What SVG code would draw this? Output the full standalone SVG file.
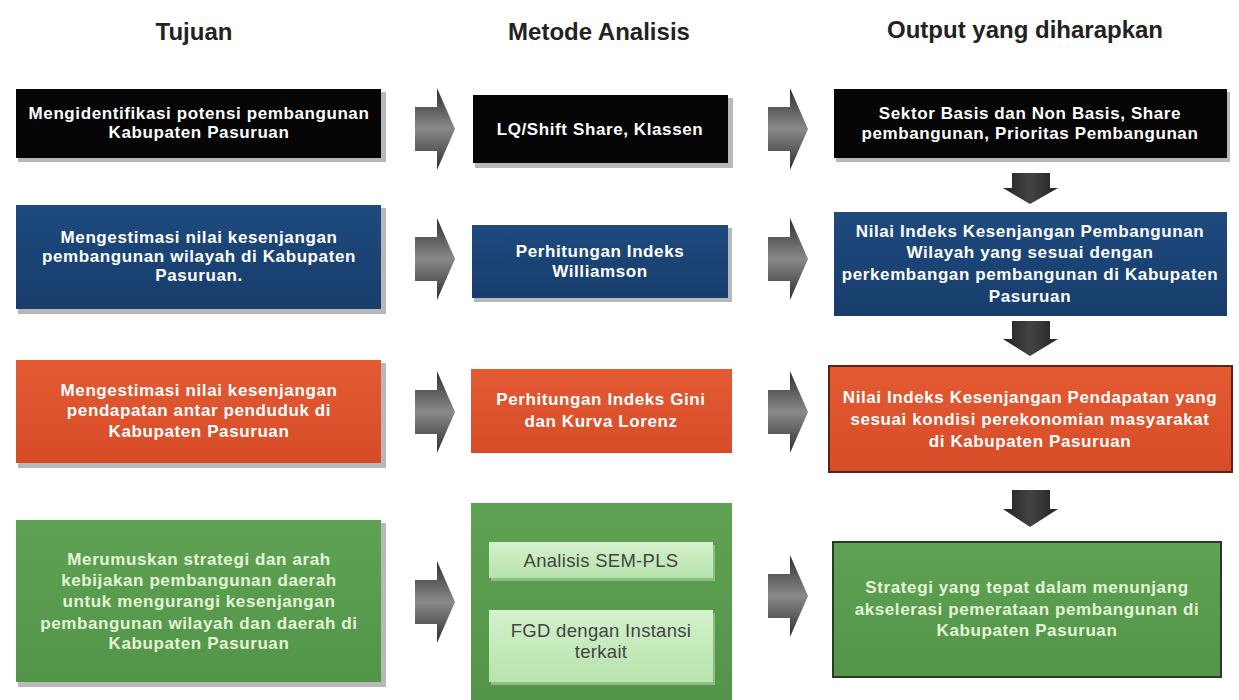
<svg xmlns="http://www.w3.org/2000/svg" width="1239" height="700" viewBox="0 0 1239 700">
<defs>
<style>
.h{font-family:"Liberation Sans",Arial,sans-serif;font-weight:bold;font-size:24px;fill:#222;text-anchor:middle}
.t{font-family:"Liberation Sans",Arial,sans-serif;font-weight:bold;font-size:17px;letter-spacing:0.6px;fill:#fff;text-anchor:middle}
.tg{font-family:"Liberation Sans",Arial,sans-serif;font-weight:bold;font-size:17px;letter-spacing:0.6px;fill:#e4f4d8;text-anchor:middle}
.ti{font-family:"Liberation Sans",Arial,sans-serif;font-size:18.5px;letter-spacing:0.3px;fill:#444;text-anchor:middle}
.sh{fill:#b8b8b8}
.bk{fill:#050505}
.bl{fill:url(#gBlue)}
.or{fill:url(#gOr)}
.gr{fill:url(#gGr)}
.arr{fill:url(#gArr)}
.darr{fill:url(#gDArr)}
</style>
<linearGradient id="gBlue" x1="0" y1="0" x2="0" y2="1"><stop offset="0" stop-color="#1e4a7e"/><stop offset="1" stop-color="#173d6c"/></linearGradient>
<linearGradient id="gOr" x1="0" y1="0" x2="0" y2="1"><stop offset="0" stop-color="#e35a33"/><stop offset="1" stop-color="#d64c27"/></linearGradient>
<linearGradient id="gGr" x1="0" y1="0" x2="0" y2="1"><stop offset="0" stop-color="#5fa254"/><stop offset="1" stop-color="#529548"/></linearGradient>
<linearGradient id="gIn" x1="0" y1="0" x2="0" y2="1"><stop offset="0" stop-color="#d4f1cc"/><stop offset="1" stop-color="#b7e3ad"/></linearGradient>
<linearGradient id="gArr" x1="0" y1="0" x2="0" y2="1"><stop offset="0" stop-color="#2e2e2e"/><stop offset="0.5" stop-color="#8a8a8a"/><stop offset="1" stop-color="#2e2e2e"/></linearGradient>
<linearGradient id="gDArr" x1="0" y1="0" x2="1" y2="0"><stop offset="0" stop-color="#222"/><stop offset="0.5" stop-color="#444"/><stop offset="1" stop-color="#222"/></linearGradient>
<symbol id="ra" viewBox="0 0 40 82"><path d="M0,19 H22 V0 L40,41 L22,82 V63 H0 Z"/></symbol>
</defs>
<rect width="1239" height="700" fill="#fff"/>

<g id="headers">
<text class="h" x="194" y="40">Tujuan</text>
<text class="h" x="599" y="40">Metode Analisis</text>
<text class="h" x="1025" y="38">Output yang diharapkan</text>
</g>

<!-- Tujuan column -->
<g id="t1">
<rect class="sh" x="18" y="92" width="368" height="70"/>
<rect class="bk" x="16" y="89" width="365" height="69"/>
<text class="t" x="199" y="119">Mengidentifikasi potensi pembangunan</text>
<text class="t" x="199" y="138">Kabupaten Pasuruan</text>
</g>
<g id="t2">
<rect class="sh" x="18" y="208" width="368" height="106"/>
<rect class="bl" x="16" y="205" width="365" height="104"/>
<text class="t" x="199" y="243">Mengestimasi nilai kesenjangan</text>
<text class="t" x="199" y="262">pembangunan wilayah di Kabupaten</text>
<text class="t" x="199" y="281">Pasuruan.</text>
</g>
<g id="t3">
<rect class="sh" x="18" y="363" width="368" height="105"/>
<rect class="or" x="16" y="360" width="365" height="103"/>
<text class="t" x="199" y="396">Mengestimasi nilai kesenjangan</text>
<text class="t" x="199" y="416">pendapatan antar penduduk di</text>
<text class="t" x="199" y="437">Kabupaten Pasuruan</text>
</g>
<g id="t4">
<rect class="sh" x="18" y="523" width="368" height="164"/>
<rect class="gr" x="16" y="520" width="365" height="162"/>
<text class="tg" x="199" y="565">Merumuskan strategi dan arah</text>
<text class="tg" x="199" y="586">kebijakan pembangunan daerah</text>
<text class="tg" x="199" y="607">untuk mengurangi kesenjangan</text>
<text class="tg" x="199" y="629">pembangunan wilayah dan daerah di</text>
<text class="tg" x="199" y="649">Kabupaten Pasuruan</text>
</g>

<!-- Metode column -->
<g id="m1">
<rect class="sh" x="475" y="98" width="258" height="70"/>
<rect class="bk" x="473" y="95" width="255" height="68"/>
<text class="t" x="600" y="135">LQ/Shift Share, Klassen</text>
</g>
<g id="m2">
<rect class="sh" x="474" y="228" width="258" height="74"/>
<rect class="bl" x="472" y="225" width="256" height="73"/>
<text class="t" x="600" y="257">Perhitungan Indeks</text>
<text class="t" x="600" y="277">Williamson</text>
</g>
<g id="m3">
<rect class="or" x="471" y="369" width="261" height="84"/>
<text class="t" x="601" y="405">Perhitungan Indeks Gini</text>
<text class="t" x="601" y="427">dan Kurva Lorenz</text>
</g>
<g id="m4">
<rect class="gr" x="471" y="503" width="261" height="197"/>
<rect fill="#8cbf80" x="491" y="545" width="224" height="36"/>
<rect fill="url(#gIn)" x="489" y="542" width="224" height="36"/>
<text class="ti" x="601" y="567">Analisis SEM-PLS</text>
<rect fill="#8cbf80" x="491" y="613" width="224" height="72"/>
<rect fill="url(#gIn)" x="489" y="610" width="224" height="72"/>
<text class="ti" x="601" y="637">FGD dengan Instansi</text>
<text class="ti" x="601" y="658">terkait</text>
</g>

<!-- Output column -->
<g id="o1">
<rect class="sh" x="836" y="92" width="394" height="70"/>
<rect class="bk" x="834" y="89" width="393" height="69"/>
<text class="t" x="1030" y="119">Sektor Basis dan Non Basis, Share</text>
<text class="t" x="1030" y="139">pembangunan, Prioritas Pembangunan</text>
</g>
<g id="o2">
<rect class="bl" x="834" y="212" width="393" height="104"/>
<text class="t" x="1030" y="237">Nilai Indeks Kesenjangan Pembangunan</text>
<text class="t" x="1030" y="258">Wilayah yang sesuai dengan</text>
<text class="t" x="1030" y="280">perkembangan pembangunan di Kabupaten</text>
<text class="t" x="1030" y="302">Pasuruan</text>
</g>
<g id="o3">
<rect class="or" x="829" y="366" width="403" height="106" stroke="#5a2416" stroke-width="2"/>
<text class="t" x="1030" y="403">Nilai Indeks Kesenjangan Pendapatan yang</text>
<text class="t" x="1030" y="425">sesuai kondisi perekonomian masyarakat</text>
<text class="t" x="1030" y="447">di Kabupaten Pasuruan</text>
</g>
<g id="o4">
<rect class="gr" x="833" y="542" width="388" height="135" stroke="#2a3a26" stroke-width="2"/>
<text class="tg" x="1027" y="593">Strategi yang tepat dalam menunjang</text>
<text class="tg" x="1027" y="615">akselerasi pemerataan pembangunan di</text>
<text class="tg" x="1027" y="636">Kabupaten Pasuruan</text>
</g>

<g id="connectors">
<use href="#ra" class="arr" x="415" y="88" width="40" height="82"/>
<use href="#ra" class="arr" x="764" y="88" width="48" height="82"/>
<use href="#ra" class="arr" x="415" y="218" width="40" height="82"/>
<use href="#ra" class="arr" x="764" y="218" width="48" height="82"/>
<use href="#ra" class="arr" x="415" y="371" width="40" height="82"/>
<use href="#ra" class="arr" x="764" y="371" width="48" height="82"/>
<use href="#ra" class="arr" x="415" y="561" width="40" height="82"/>
<use href="#ra" class="arr" x="764" y="555" width="48" height="82"/>
<path class="darr" d="M1012,173 H1050 V188 H1058 L1030,204 L1003,188 H1012 Z"/>
<path class="darr" d="M1012,321 H1050 V339 H1058 L1030,356 L1003,339 H1012 Z"/>
<path class="darr" d="M1012,490 H1050 V509 H1058 L1030,527 L1003,509 H1012 Z"/>
</g>
</svg>
